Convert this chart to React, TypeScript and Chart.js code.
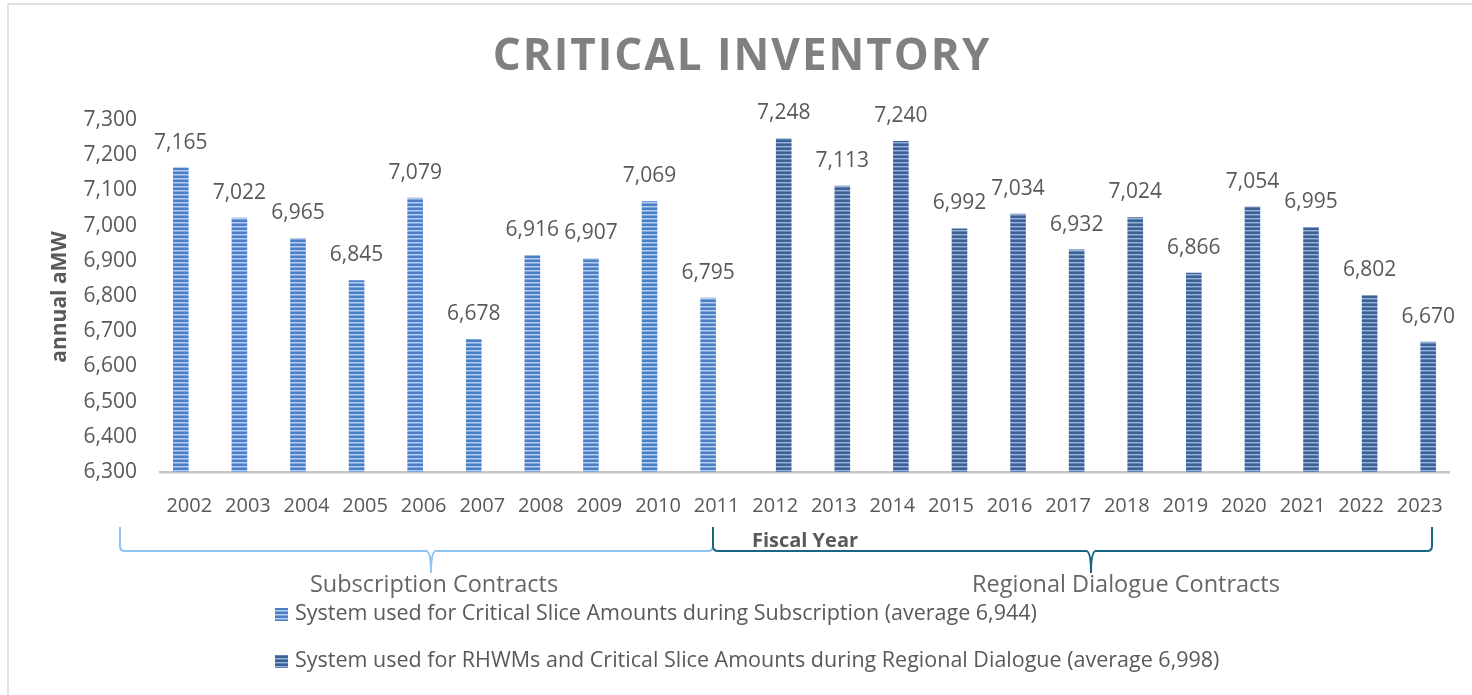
import React, { useEffect, useRef } from "react";
import { Chart, registerables } from "chart.js";

Chart.register(...registerables);

const years = ["2002","2003","2004","2005","2006","2007","2008","2009","2010","2011","2012","2013","2014","2015","2016","2017","2018","2019","2020","2021","2022","2023"];
const subscriptionValues: (number | null)[] = [7165,7022,6965,6845,7079,6678,6916,6907,7069,6795,null,null,null,null,null,null,null,null,null,null,null,null];
const regionalValues: (number | null)[] = [null,null,null,null,null,null,null,null,null,null,7248,7113,7240,6992,7034,6932,7024,6866,7054,6995,6802,6670];
const legendLabels = [
  "System used for Critical Slice Amounts during Subscription (average 6,944)",
  "System used for RHWMs and Critical Slice Amounts during Regional Dialogue (average 6,998)",
];
const braceLabels = ["Subscription Contracts", "Regional Dialogue Contracts"];
const titleText = "CRITICAL INVENTORY";
const yTitle = "annual aMW";
const xTitle = "Fiscal Year";
const yMin = 6300;
const yMax = 7300;
const yStep = 100;

const FONT = "'Open Sans', 'Liberation Sans', sans-serif";
const TEXT = "#595959";

function makePattern(ctx: CanvasRenderingContext2D, colors: string[]) {
  const c = document.createElement("canvas");
  c.width = 4;
  c.height = colors.length;
  const g = c.getContext("2d")!;
  colors.forEach((col, i) => {
    g.fillStyle = col;
    g.fillRect(0, i, 4, 1);
  });
  return ctx.createPattern(c, "repeat")!;
}

function fmt(v: number) {
  return v.toLocaleString("en-US");
}

export default function App() {
  const ref = useRef<HTMLCanvasElement>(null);
  useEffect(() => {
    document.body.style.margin = "0";
    const canvas = ref.current!;
    const ctx = canvas.getContext("2d")!;
    const pat1 = makePattern(ctx, ["#4a7ec6", "#4a7ec6", "#b7cfee", "#7fa6dc"]);
    const pat2 = makePattern(ctx, ["#3a6299", "#3a6299", "#9cb3d6", "#6283b5"]);
    const patterns = [pat1, pat2];
    const braceColors = ["#8fc4f2", "#1b6585"];
    // brace geometry: [left, middle, right]
    const braces = [[120, 431, 713], [713, 1091, 1432]];
    const braceLabelX = [434, 1126];

    const overlay = {
      id: "overlay",
      beforeDraw(chart: any) {
        const c = chart.ctx;
        c.save();
        c.fillStyle = "#ffffff";
        c.fillRect(0, 0, chart.width, chart.height);
        c.strokeStyle = "#d9d9d9";
        c.lineWidth = 1.5;
        c.beginPath();
        c.moveTo(8, chart.height);
        c.lineTo(8, 4);
        c.lineTo(chart.width, 4);
        c.stroke();
        c.restore();
      },
      afterDatasetsDraw(chart: any) {
        const c = chart.ctx;
        c.save();
        c.font = `21px ${FONT}`;
        c.fillStyle = TEXT;
        c.textAlign = "center";
        c.textBaseline = "alphabetic";
        chart.data.datasets.forEach((ds: any, di: number) => {
          const meta = chart.getDatasetMeta(di);
          meta.data.forEach((el: any, i: number) => {
            const v = ds.data[i];
            if (v == null) return;
            c.fillText(fmt(v), el.x, el.y - 19);
          });
        });
        c.restore();
      },
      afterDraw(chart: any) {
        const c = chart.ctx;
        c.save();
        // title
        c.fillStyle = "#808080";
        c.font = `bold 44px ${FONT}`;
        (c as any).letterSpacing = "2px";
        c.textAlign = "center";
        c.textBaseline = "middle";
        c.fillText(titleText, 742, 57);
        (c as any).letterSpacing = "0px";
        // y title
        c.save();
        c.translate(60, 297);
        c.rotate(-Math.PI / 2);
        c.font = `bold 21px ${FONT}`;
        c.fillStyle = TEXT;
        c.fillText(yTitle, 0, 0);
        c.restore();
        // x title
        c.font = `bold 20px ${FONT}`;
        c.fillStyle = TEXT;
        c.fillText(xTitle, 805, 541);
        // braces
        const yTop = 527, yLine = 551, yTip = 573;
        braces.forEach((b, bi) => {
          const [x1, xm, x2] = b;
          c.strokeStyle = braceColors[bi];
          c.lineWidth = 2;
          c.beginPath();
          c.moveTo(x1, yTop);
          c.lineTo(x1, yLine - 5);
          c.quadraticCurveTo(x1, yLine, x1 + 5, yLine);
          c.lineTo(xm - 5, yLine);
          c.quadraticCurveTo(xm, yLine, xm, yTip);
          c.quadraticCurveTo(xm, yLine, xm + 5, yLine);
          c.lineTo(x2 - 5, yLine);
          c.quadraticCurveTo(x2, yLine, x2, yLine - 5);
          c.lineTo(x2, yTop);
          c.stroke();
          c.font = `23.5px ${FONT}`;
          c.fillStyle = "#666666";
          c.textAlign = "center";
          c.textBaseline = "middle";
          c.fillText(braceLabels[bi], braceLabelX[bi], 585);
        });
        // legend
        const ly = [614, 661];
        legendLabels.forEach((lab, i) => {
          c.fillStyle = patterns[i];
          c.fillRect(275, ly[i] - 6, 13, 13);
          c.fillStyle = TEXT;
          c.font = `21.5px ${FONT}`;
          c.textAlign = "left";
          c.textBaseline = "middle";
          c.fillText(lab, 295, ly[i]);
        });
        c.restore();
      },
    };

    const chart = new Chart(canvas, {
      type: "bar",
      data: {
        labels: years,
        datasets: [
          { label: legendLabels[0], data: subscriptionValues as any, backgroundColor: pat1 as any, categoryPercentage: 0.58, barPercentage: 0.92 },
          { label: legendLabels[1], data: regionalValues as any, backgroundColor: pat2 as any, categoryPercentage: 0.58, barPercentage: 0.92 },
        ],
      },
      options: {
        responsive: false,
        animation: false,
        layout: { padding: { top: 120, left: 0, right: 23, bottom: 163 } },
        plugins: { legend: { display: false }, tooltip: { enabled: false }, title: { display: false } },
        scales: {
          x: {
            grid: { display: false, drawTicks: false },
            border: { display: true, color: "#c6c6c6", width: 2.5 },
            ticks: { color: TEXT, font: { family: FONT, size: 20 }, padding: 22, maxRotation: 0, autoSkip: false },
            afterFit: (s: any) => { s.height = 60; },
          },
          y: {
            min: yMin,
            max: yMax,
            grid: { display: false, drawTicks: false },
            border: { display: false },
            ticks: { stepSize: yStep, color: TEXT, font: { family: FONT, size: 21 }, padding: 23, callback: (v: any) => fmt(Number(v)) },
            afterFit: (s: any) => { s.width = 160; },
          },
        },
      },
      plugins: [overlay],
    });
    return () => chart.destroy();
  }, []);
  return (
    <div style={{ width: 1472, height: 695 }}>
      <canvas ref={ref} width={1472} height={695} style={{ width: 1472, height: 695, display: "block" }} />
    </div>
  );
}
